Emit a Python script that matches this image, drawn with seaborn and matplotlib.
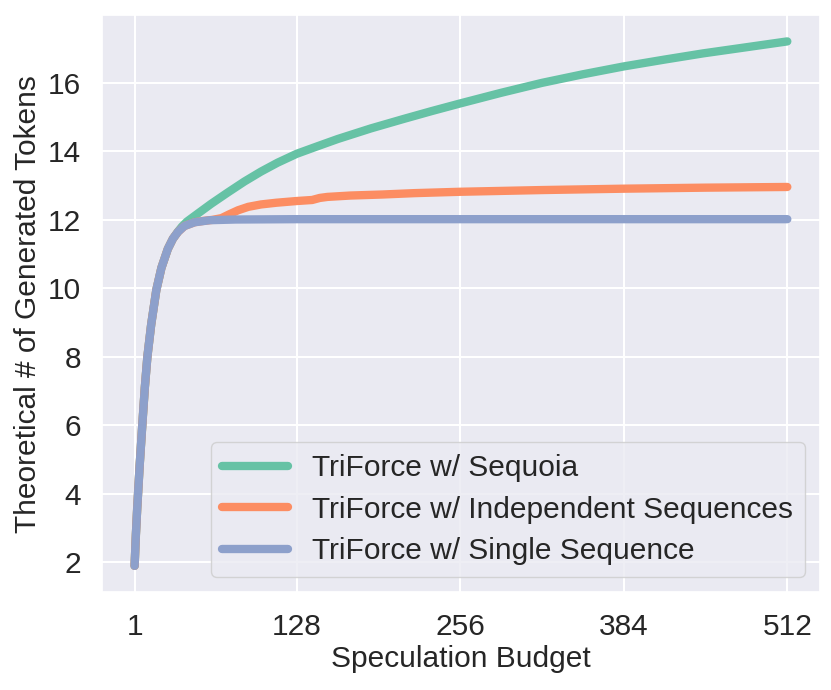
import numpy as np
import pandas as pd
import matplotlib
matplotlib.use("Agg")
import matplotlib.pyplot as plt
import seaborn as sns

# ---- data ----
seq_x = [1, 2, 3, 4, 5, 7, 9, 11, 14, 18, 22, 27, 31, 35, 38, 42, 50, 61, 74, 87, 100,
         113, 128, 145, 160, 186, 212, 234, 256, 288, 320, 352, 384, 416, 446, 480, 512]
seq_y = [1.9, 2.8, 3.55, 4.2, 4.85, 6.0, 7.1, 8.0, 8.95, 9.95, 10.6, 11.15, 11.45, 11.66,
         11.8, 11.95, 12.17, 12.47, 12.8, 13.12, 13.41, 13.67, 13.93, 14.16, 14.36, 14.67,
         14.95, 15.18, 15.4, 15.71, 16.0, 16.25, 16.48, 16.68, 16.86, 17.04, 17.21]

ind_x = [1, 2, 3, 4, 5, 7, 9, 11, 14, 18, 22, 27, 31, 35, 40, 48, 55, 62, 69, 75, 82,
         90, 100, 112, 128, 140, 146, 152, 170, 195, 220, 256, 320, 384, 448, 512]
ind_y = [1.9, 2.8, 3.55, 4.2, 4.85, 6.0, 7.1, 8.0, 8.95, 9.95, 10.6, 11.15, 11.45, 11.65,
         11.82, 11.93, 11.97, 12.0, 12.05, 12.16, 12.28, 12.38, 12.45, 12.5, 12.55, 12.58,
         12.64, 12.67, 12.71, 12.74, 12.78, 12.82, 12.87, 12.91, 12.94, 12.96]

single_x = [1, 2, 3, 4, 5, 7, 9, 11, 14, 18, 22, 27, 31, 35, 40, 48, 60, 80, 128, 256,
            384, 512]
single_y = [1.9, 2.8, 3.55, 4.2, 4.85, 6.0, 7.1, 8.0, 8.95, 9.95, 10.6, 11.15, 11.45,
            11.65, 11.82, 11.93, 11.99, 12.01, 12.02, 12.02, 12.02, 12.02]

labels = ["TriForce w/ Sequoia", "TriForce w/ Independent Sequences",
          "TriForce w/ Single Sequence"]
x_ticks = [1, 128, 256, 384, 512]
y_ticks = [2, 4, 6, 8, 10, 12, 14, 16]

# ---- style ----
sns.set_theme(style="darkgrid")
plt.rcParams['font.family'] = ['Liberation Sans', 'DejaVu Sans']
palette = sns.color_palette("Set2", 3)
FS = 21.5
LW = 6

fig = plt.figure(figsize=(8.31, 6.90), dpi=100)
ax = fig.add_axes([0.1227, 0.142, 0.864, 0.836])

series = [(seq_x, seq_y), (ind_x, ind_y), (single_x, single_y)]
for (xs, ys), lab, col in zip(series, labels, palette):
    df = pd.DataFrame({"x": xs, "y": ys})
    sns.lineplot(data=df, x="x", y="y", ax=ax, color=col, linewidth=LW,
                 label=lab, estimator=None, solid_capstyle="round",
                 solid_joinstyle="round")

ax.set_xticks(x_ticks)
ax.set_yticks(y_ticks)
ax.tick_params(axis="both", labelsize=FS, pad=9, colors="#262626")
ax.set_xlabel("Speculation Budget", fontsize=FS, color="#262626", labelpad=3)
ax.set_ylabel("Theoretical # of Generated Tokens", fontsize=FS, color="#262626")
ax.grid(True, color="white", linewidth=1.5)

leg = ax.legend(loc="lower right", fontsize=FS, handlelength=2.2,
                borderaxespad=0.5, labelspacing=0.45)
for h in leg.get_lines():
    h.set_linewidth(LW)
    h.set_solid_capstyle("round")

fig.savefig("out.png", dpi=100)
